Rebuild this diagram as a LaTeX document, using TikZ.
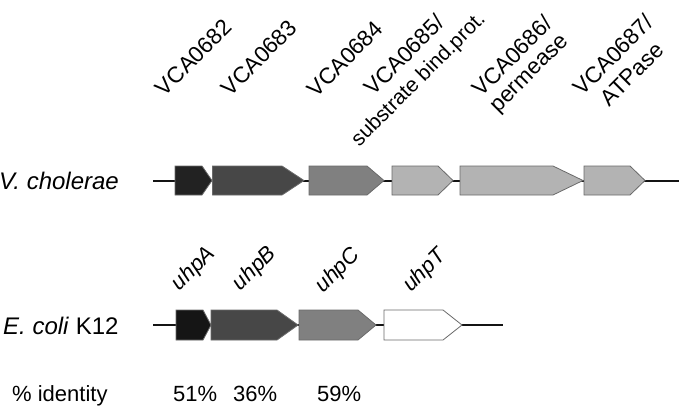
\documentclass[tikz,border=0pt]{standalone}
\usepackage{fontspec}
\setmainfont{Liberation Sans}
\definecolor{gA}{HTML}{222222}
\definecolor{gAe}{HTML}{151515}
\definecolor{gB}{HTML}{474747}
\definecolor{gC}{HTML}{808080}
\definecolor{gD}{HTML}{B3B3B3}
\definecolor{gE}{HTML}{FFFFFF}
\definecolor{edge}{HTML}{6A6A6A}
\begin{document}
\begin{tikzpicture}[x=1pt,y=-1pt,
  backbone/.style={line width=2.8pt,color=black!92},
  gene/.style={draw=edge,line width=0.8pt},
  lbl/.style={font=\fontsize{22.5}{27}\selectfont,rotate=45,inner sep=0pt,anchor=center},
  ulbl/.style={font=\fontsize{22}{26}\selectfont\itshape,rotate=45,inner sep=0pt,anchor=center},
  rowname/.style={font=\fontsize{24}{28}\selectfont,inner sep=0pt,anchor=base west},
  txt/.style={font=\fontsize{22}{26}\selectfont,inner sep=0pt,anchor=base west}]
\useasboundingbox (0,0) rectangle (680,405);
% backbones
\coordinate (v0) at (153,181);
\coordinate (v1) at (679,181);
\coordinate (e0) at (153,325);
\coordinate (e1) at (503,325);
\draw[backbone] (v0) -- (v1);
\draw[backbone] (e0) -- (e1);
% genes: fill, x0, xb, xt, top, bot
\newcommand{\genearrow}[6]{%
  \filldraw[gene,fill=#1] (#2,#5) -- (#3,#5) -- (#4,{(#5+#6)/2}) -- (#3,#6) -- (#2,#6) -- cycle;}
\genearrow{gA}{175}{202}{212}{166}{195}
\genearrow{gB}{212.5}{282}{304}{166}{195}
\genearrow{gC}{309}{367}{384}{166}{195}
\genearrow{gD}{392}{438}{453}{166}{195}
\genearrow{gD}{460}{553}{583}{166}{195}
\genearrow{gD}{584}{630}{645}{166}{195}
\genearrow{gAe}{176}{203}{211}{310}{340}
\genearrow{gB}{211}{277}{298}{310}{340}
\genearrow{gC}{299}{358}{376}{310}{340}
\genearrow{gE}{384}{443}{462}{310}{340}
% top labels
\node[lbl] (l1) at (193.5,57.5) {VCA0682};
\node[lbl] (l2) at (259,58) {VCA0683};
\node[lbl] (l3) at (345,59) {VCA0684};
\node[lbl] (l4a) at (404,55) {VCA0685/};
\node[lbl,font=\fontsize{21}{25}\selectfont] (l4b) at (419,80) {substrate bind.prot.};
\node[lbl] (l5a) at (512,56) {VCA0686/};
\node[lbl] (l5b) at (531,75) {permease};
\node[lbl] (l6a) at (613,55) {VCA0687/};
\node[lbl] (l6b) at (632,74) {ATPase};
% bottom labels
\node[ulbl] (u1) at (194,269) {uhpA};
\node[ulbl] (u2) at (255,269) {uhpB};
\node[ulbl] (u3) at (338,271) {uhpC};
\node[ulbl] (u4) at (425,271) {uhpT};
% row names
\node[rowname] (vc) at (-1,189) {\itshape V. cholerae};
\node[rowname] (ec) at (3,334) {\itshape E. coli\/ \upshape K12};
\node[txt] (pi) at (12,401) {\% identity};
\node[txt] (p1) at (173,401) {51\%};
\node[txt] (p2) at (233,401) {36\%};
\node[txt] (p3) at (317,401) {59\%};
\end{tikzpicture}
\end{document}
